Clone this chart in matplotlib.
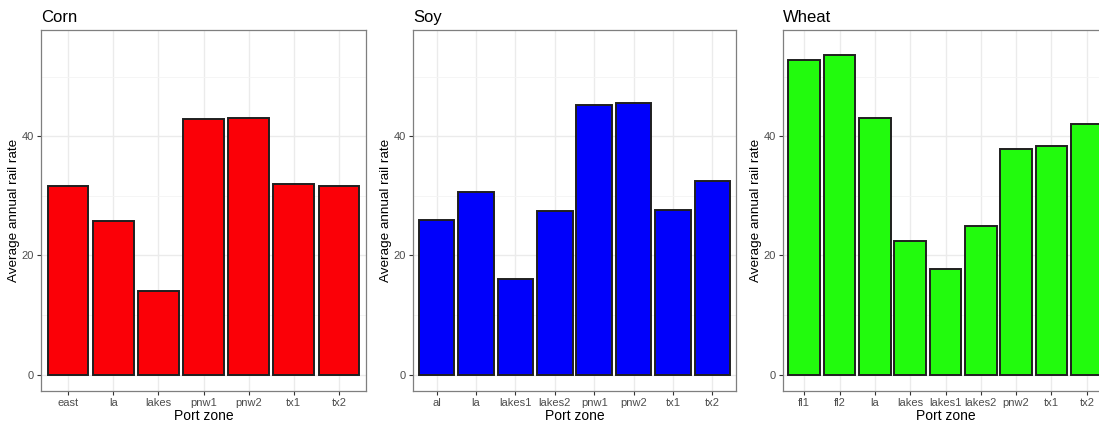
import matplotlib.pyplot as plt
import numpy as np

plt.rcParams["font.family"] = ["Liberation Sans", "DejaVu Sans"]

corn_zones = ["east", "la", "lakes", "pnw1", "pnw2", "tx1", "tx2"]
corn_rates = [31.6, 25.8, 14.1, 42.9, 43.0, 32.0, 31.7]

soy_zones = ["al", "la", "lakes1", "lakes2", "pnw1", "pnw2", "tx1", "tx2"]
soy_rates = [25.9, 30.6, 16.0, 27.4, 45.3, 45.5, 27.7, 32.5]

wheat_zones = ["fl1", "fl2", "la", "lakes", "lakes1", "lakes2", "pnw2", "tx1", "tx2"]
wheat_rates = [52.8, 53.7, 43.0, 22.5, 17.7, 24.9, 37.9, 38.3, 42.1]

panels = [
    ("Corn", corn_zones, corn_rates, "#fb0007", 41, 366),
    ("Soy", soy_zones, soy_rates, "#0000fb", 413, 736),
    ("Wheat", wheat_zones, wheat_rates, "#22fb0d", 783, 1108),
]

W, H = 1099, 428
fig = plt.figure(figsize=(W / 100, H / 100), dpi=100)
top_px, bot_px = 30.5, 391

for title, zones, rates, color, x0, x1 in panels:
    # panel box in pixels -> figure fractions (wheat runs past the right edge, as in the original)
    ax = fig.add_axes([x0 / W, (H - bot_px) / H, (x1 - x0) / W, (bot_px - top_px) / H])
    x = np.arange(len(zones))
    ax.bar(x, rates, width=0.9, color=color, edgecolor="#1f1f1f", linewidth=1.4, zorder=3)
    ax.set_xlim(-0.6, len(zones) - 0.4)
    ax.set_ylim(-2.75, 57.75)
    ax.set_xticks(x)
    ax.set_xticklabels(zones)
    ax.set_yticks([0, 20, 40])
    ax.set_yticks([10, 30, 50], minor=True)
    ax.grid(True, which="major", color="#ebebeb", linewidth=1.0, zorder=0)
    ax.grid(True, which="minor", axis="y", color="#f4f4f4", linewidth=0.6, zorder=0)
    ax.tick_params(axis="both", which="major", length=3, width=0.8, color="#333333",
                   labelcolor="#4d4d4d", labelsize=8, pad=2)
    ax.tick_params(axis="both", which="minor", length=0)
    for s in ax.spines.values():
        s.set_color("#7f7f7f")
        s.set_linewidth(0.9)
    ax.set_xlabel("Port zone", fontsize=10, color="black", labelpad=1)
    ax.set_ylabel("Average annual rail rate", fontsize=9.7, color="black", labelpad=1)
    ax.set_title(title, loc="left", fontsize=12, pad=6)

fig.savefig("out.png", dpi=100)
